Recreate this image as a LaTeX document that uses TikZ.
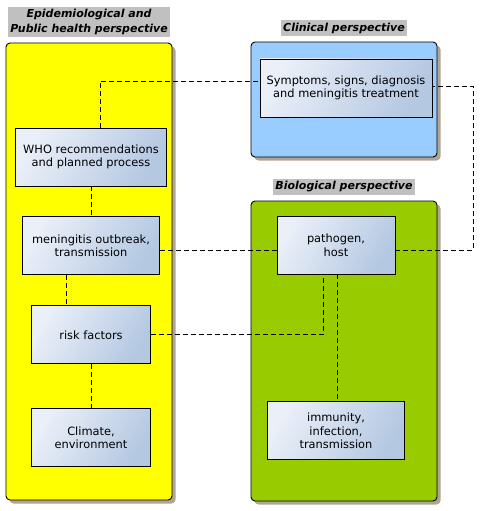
\documentclass[tikz,border=0pt]{standalone}
\usepackage{fontspec}
\setmainfont{DejaVu Sans}
\usetikzlibrary{positioning,shadows}

\definecolor{epiyellow}{HTML}{FFFF00}
\definecolor{cliblue}{HTML}{99CCFF}
\definecolor{biogreen}{HTML}{99CC00}
\definecolor{titlegray}{HTML}{C0C0C0}
\definecolor{shadowtan}{HTML}{B0A592}
\definecolor{boxlight}{HTML}{EAEFF8}
\definecolor{boxdark}{HTML}{B4C8E2}

\begin{document}
\begin{tikzpicture}[
  x=1pt, y=-1pt,
  node distance=5.5pt,
  panel/.style={draw,line width=0.9pt,rounded corners=4pt,fill=#1,
                general shadow={fill=shadowtan,shadow xshift=3.5pt,shadow yshift=-3.5pt}},
  ptitle/.style={fill=titlegray,align=center,inner xsep=2.5pt,inner ysep=2.5pt,
                 font=\fontsize{11}{14.5}\selectfont\bfseries\itshape},
  topic/.style={draw,line width=0.9pt,left color=boxlight,right color=boxdark,shading angle=60,
                minimum width=#1,minimum height=58pt,align=center,inner sep=0pt,
                font=\fontsize{11.4}{13.5}\selectfont},
  link/.style={line width=0.8pt,dash pattern=on 5pt off 3pt}
]
\useasboundingbox (0,0) rectangle (480,511);

\node[panel=epiyellow,minimum width=166pt,minimum height=457pt] (epi)  at (89,271.5) {};
\node[panel=cliblue,minimum width=186pt,minimum height=115pt]   (clin) at (344,99.5) {};
\node[panel=biogreen,minimum width=186pt,minimum height=300pt]  (bio)  at (344,351) {};

\node[ptitle,above=of epi]  (epit)  {Epidemiological and\\Public health perspective};
\node[ptitle,above=of clin] (clint) {Clinical perspective};
\node[ptitle,above=of bio]  (biot)  {Biological perspective};

\node[topic=151pt] (who) at (91,157) {WHO recommendations\\and planned process};
\node[topic=137pt,below=30pt of who]      (outbreak) {meningitis outbreak,\\transmission};
\node[topic=119pt,below=30pt of outbreak] (risk)     {risk factors};
\node[topic=119pt,below=44pt of risk]     (climate)  {Climate,\\environment};

\node[topic=172pt] (symptoms) at (346,88)  {Symptoms, signs, diagnosis\\and meningitis treatment};
\node[topic=118pt] (pathogen) at (336,245) {pathogen,\\host};
\node[topic=137pt,below=127pt of pathogen] (immunity) {immunity,\\infection,\\transmission};

\draw[link] (who.north -| 100,0) |- (symptoms.west |- 0,81);
\draw[link] (who.south) -- (outbreak.north);
\draw[link] (outbreak.south -| 66,0) -- (risk.north -| 66,0);
\draw[link] (risk.south) -- (climate.north);
\draw[link] (outbreak.east |- 0,250) -- (pathogen.west |- 0,250);
\draw[link] (risk.east) -| (pathogen.south -| 323,0);
\draw[link] (pathogen.south -| 337,0) -- (immunity.north -| 337,0);
\draw[link] (pathogen.east |- 0,250) -| (473,86) -- (symptoms.east |- 0,86);
\end{tikzpicture}
\end{document}
